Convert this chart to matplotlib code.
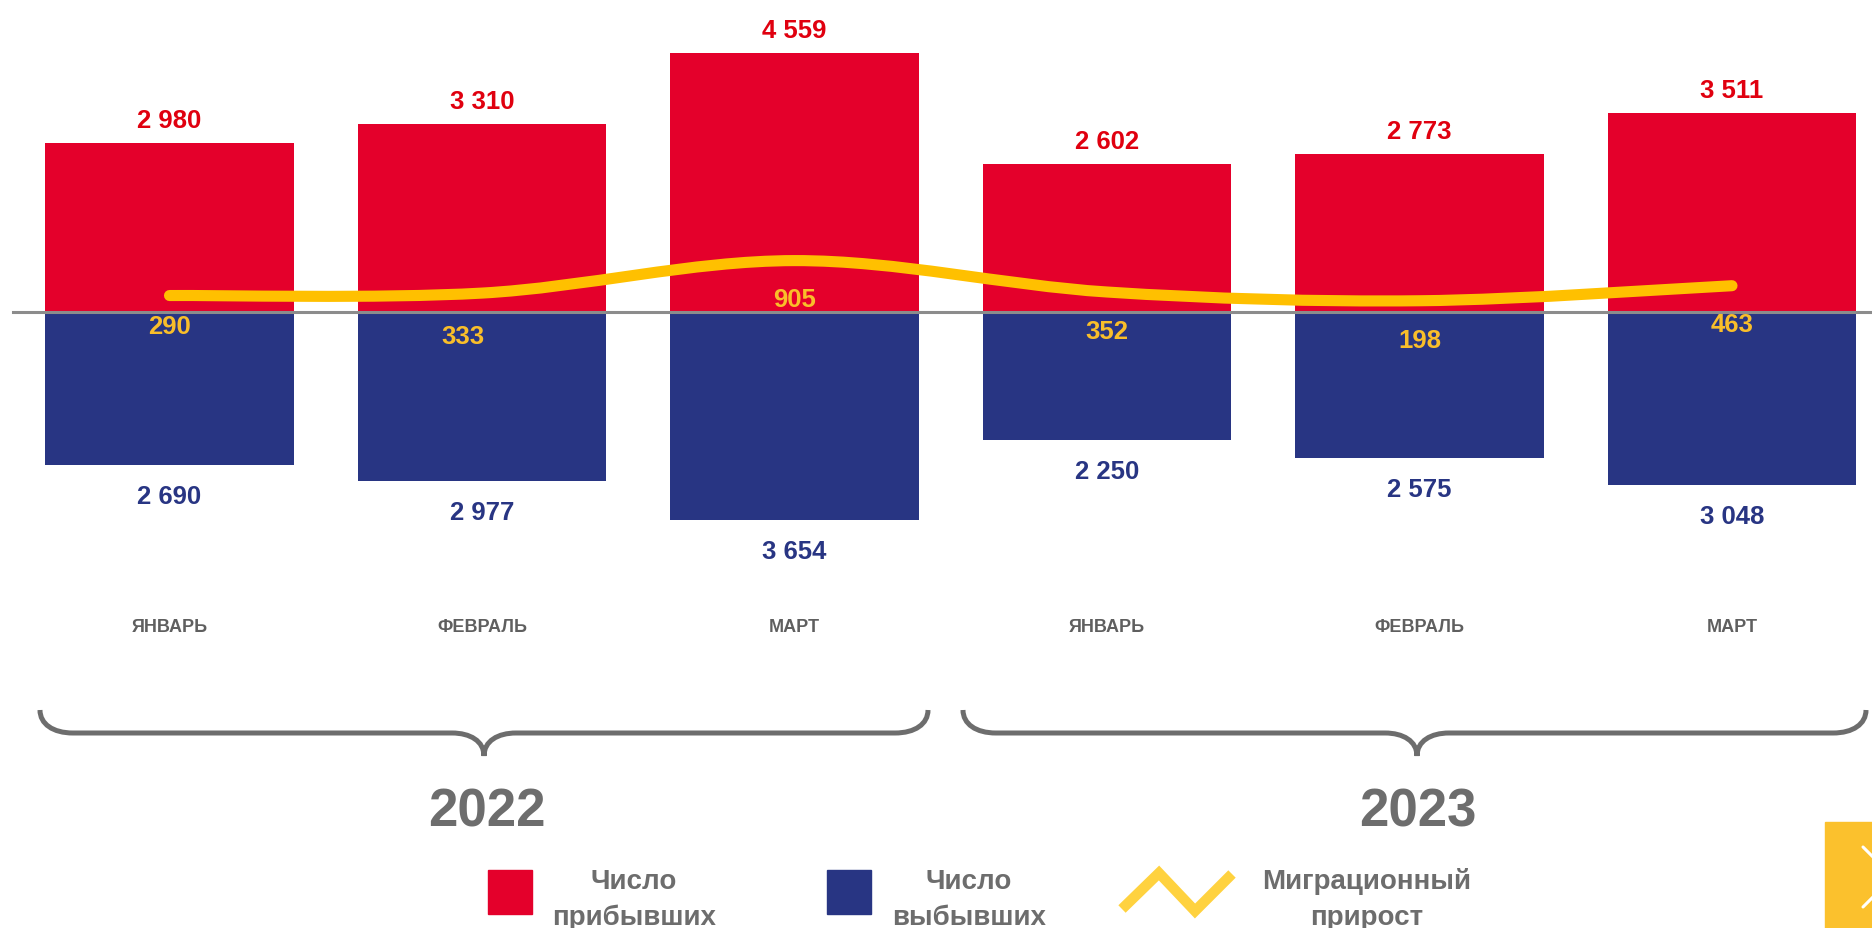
import matplotlib
matplotlib.use('Agg')
import matplotlib.pyplot as plt
import matplotlib.transforms as mtransforms
import numpy as np
from matplotlib import font_manager
from matplotlib.path import Path
from matplotlib.patches import PathPatch, Rectangle

# data
months = ['ЯНВАРЬ', 'ФЕВРАЛЬ', 'МАРТ', 'ЯНВАРЬ', 'ФЕВРАЛЬ', 'МАРТ']
years = ['2022', '2023']
arrived = [2980, 3310, 4559, 2602, 2773, 3511]
departed = [2690, 2977, 3654, 2250, 2575, 3048]
growth = [290, 333, 905, 352, 198, 463]
legend_labels = [['Число', 'прибывших'], ['Число', 'выбывших'], ['Миграционный', 'прирост']]

RED = '#E4002B'
BLUE = '#283583'
YELLOW = '#FFC000'
LABEL_RED = '#E0000F'
LABEL_YELLOW = '#F9BE2A'
GRAY = '#6D6D6D'

W, H = 1872, 929
ZERO_PX = 313      # zero line, pixels from top
PX_PER_UNIT = 0.0568
STEP_PX = 312.5
FIRST_PX = 169.5


def has_font(name):
    try:
        font_manager.findfont(font_manager.FontProperties(family=name), fallback_to_default=False)
        return True
    except ValueError:
        return False


BOLD = 'Liberation Sans'
NARROW = 'Liberation Sans Narrow' if has_font('Liberation Sans Narrow') else 'Liberation Sans'
narrow_size = 14.5 if NARROW != BOLD else 13

fig = plt.figure(figsize=(W / 100, H / 100), dpi=100)
ax = fig.add_axes([0, 0, 1, 1])
ax.set_xlim(-FIRST_PX / STEP_PX, (W - FIRST_PX) / STEP_PX)
ax.set_ylim(-(H - ZERO_PX) / PX_PER_UNIT, ZERO_PX / PX_PER_UNIT)
ax.axis('off')

# overlay in pixel coordinates for the decorations
ov = fig.add_axes([0, 0, 1, 1], zorder=5)
ov.set_xlim(0, W)
ov.set_ylim(H, 0)
ov.axis('off')
ov.patch.set_alpha(0)

x = np.arange(len(arrived))
ax.bar(x, arrived, width=0.794, color=RED, zorder=2)
ax.bar(x, [-d for d in departed], width=0.794, color=BLUE, zorder=2)
ax.axhline(0, xmin=13 / W, xmax=1, color='#8C8C8C', lw=2.2, zorder=3)

# smoothed growth line (catmull-rom -> bezier)
pts = list(zip(x.astype(float), growth))
verts = [pts[0]]
codes = [Path.MOVETO]
for i in range(len(pts) - 1):
    p0 = pts[max(i - 1, 0)]
    p1 = pts[i]
    p2 = pts[i + 1]
    p3 = pts[min(i + 2, len(pts) - 1)]
    c1 = (p1[0] + (p2[0] - p0[0]) / 6, p1[1] + (p2[1] - p0[1]) / 6)
    c2 = (p2[0] - (p3[0] - p1[0]) / 6, p2[1] - (p3[1] - p1[1]) / 6)
    verts += [c1, c2, p2]
    codes += [Path.CURVE4] * 3
ax.add_patch(PathPatch(Path(verts, codes), fill=False, edgecolor=YELLOW, lw=8,
                       capstyle='round', joinstyle='round', zorder=4))


def fmt(v):
    return f'{v:,}'.replace(',', ' ')


for i in range(len(x)):
    ax.annotate(fmt(arrived[i]), (i, arrived[i]), xytext=(0, 23), textcoords='offset pixels',
                ha='center', va='center', fontsize=18.5, fontweight='bold', color=LABEL_RED,
                family=BOLD, zorder=6)
    ax.annotate(fmt(departed[i]), (i, -departed[i]), xytext=(0, -31), textcoords='offset pixels',
                ha='center', va='center', fontsize=18.5, fontweight='bold', color=BLUE,
                family=BOLD, zorder=6)

# growth label placement, pixels below the zero line
g_dy = [14, 24, -13, 19, 28, 12]
g_dx = [0, -19, 0, 0, 0, 0]
for i in range(len(x)):
    ax.annotate(fmt(growth[i]), (i, 0), xytext=(g_dx[i], -g_dy[i]), textcoords='offset pixels',
                ha='center', va='center', fontsize=18.5, fontweight='bold', color=LABEL_YELLOW,
                family=BOLD, zorder=6)

# month labels
blend = mtransforms.blended_transform_factory(ax.transData, ov.transData)
for i, m in enumerate(months):
    ax.text(i, 627, m, transform=blend, ha='center', va='center', fontsize=narrow_size,
            fontweight='bold', color='#5F5F5F', family=NARROW)


def brace(x0, x1, xt, ytop=711, ymid=734, ytip=757):
    r = 33
    v = [(x0, ytop), (x0, ytop + 14), (x0 + 13, ymid), (x0 + r, ymid),
         (xt - 32, ymid),
         (xt - 14, ymid), (xt, ymid + 8), (xt, ytip),
         (xt, ymid + 8), (xt + 14, ymid), (xt + 32, ymid),
         (x1 - r, ymid),
         (x1 - 13, ymid), (x1, ytop + 14), (x1, ytop)]
    c = [Path.MOVETO, Path.CURVE4, Path.CURVE4, Path.CURVE4,
         Path.LINETO,
         Path.CURVE4, Path.CURVE4, Path.CURVE4,
         Path.CURVE4, Path.CURVE4, Path.CURVE4,
         Path.LINETO,
         Path.CURVE4, Path.CURVE4, Path.CURVE4]
    ov.add_patch(PathPatch(Path(v, c), fill=False, edgecolor=GRAY, lw=3.6))


brace(40, 928, 484)
brace(963, 1866, 1417)
ov.text(487, 813, years[0], ha='center', va='center', fontsize=38, fontweight='bold',
        color=GRAY, family=BOLD)
ov.text(1418, 813, years[1], ha='center', va='center', fontsize=38, fontweight='bold',
        color=GRAY, family=BOLD)

# legend
ov.add_patch(Rectangle((488, 871), 44, 44, color=RED))
ov.add_patch(Rectangle((827, 871), 44, 44, color=BLUE))
ov.plot([1122, 1159, 1195, 1232], [910, 874, 912, 875], color='#FFD23F', lw=7.5,
        solid_capstyle='butt', solid_joinstyle='miter')
for cx, lines in zip([634, 969, 1367], legend_labels):
    ov.text(cx, 889, lines[0], ha='center', va='baseline', fontsize=20, fontweight='bold',
            color=GRAY, family=BOLD)
    ov.text(cx, 925, lines[1], ha='center', va='baseline', fontsize=20, fontweight='bold',
            color=GRAY, family=BOLD)

# navigation tab bottom right
ov.add_patch(Rectangle((1825, 823), 60, 120, color='#FBC12D', clip_on=False))
ov.plot([1863, 1893, 1863], [848, 878, 908], color='white', lw=2.2, solid_capstyle='round')

fig.savefig('out.png', dpi=100)
plt.close()
